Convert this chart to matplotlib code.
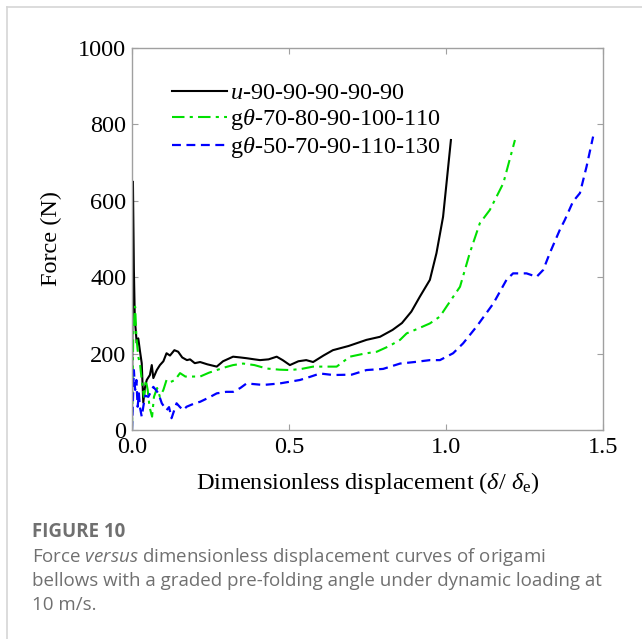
import numpy as np
import matplotlib
matplotlib.use("Agg")
import matplotlib.pyplot as plt
from matplotlib.lines import Line2D

plt.rcParams['font.family'] = ['Liberation Serif', 'DejaVu Serif']
plt.rcParams['mathtext.fontset'] = 'custom'
plt.rcParams['mathtext.rm'] = 'Liberation Serif'
plt.rcParams['mathtext.it'] = 'Liberation Serif:italic'
plt.rcParams['mathtext.sf'] = 'Open Sans:italic'  # for the italic word in the caption

# uniform bellows u-90-90-90-90-90
x_u = [0, 0.003, 0.006, 0.009, 0.012, 0.015, 0.02, 0.025, 0.031, 0.036, 0.041, 0.047,
       0.057, 0.063, 0.068, 0.079, 0.089, 0.1, 0.11, 0.121, 0.135, 0.147, 0.16, 0.175,
       0.185, 0.2, 0.217, 0.24, 0.27, 0.29, 0.322, 0.345, 0.365, 0.39, 0.408, 0.435,
       0.461, 0.48, 0.503, 0.53, 0.555, 0.577, 0.61, 0.64, 0.69, 0.747, 0.79, 0.83,
       0.86, 0.89, 0.917, 0.949, 0.97, 0.991, 1.002, 1.016]
f_u = [0, 650, 420, 290, 260, 228, 240, 209, 175, 72, 110, 131,
       144, 170, 136, 157, 170, 180, 201, 195, 209, 205, 190, 183,
       185, 175, 178, 172, 166, 180, 192, 190, 188, 185, 183, 185,
       192, 183, 170, 180, 183, 178, 195, 209, 220, 236, 244, 262,
       280, 310, 349, 393, 463, 558, 646, 759]

# graded g-theta-70-80-90-100-110
x_g1 = [0, 0.004, 0.01, 0.014, 0.02, 0.026, 0.032, 0.038, 0.044, 0.05, 0.056, 0.064,
        0.07, 0.08, 0.089, 0.1, 0.11, 0.121, 0.137, 0.153, 0.17, 0.185, 0.217, 0.245,
        0.27, 0.3, 0.322, 0.354, 0.39, 0.429, 0.47, 0.503, 0.54, 0.577, 0.652, 0.694,
        0.74, 0.78, 0.82, 0.854, 0.875, 0.91, 0.949, 0.981, 1.002, 1.045, 1.076, 1.108,
        1.14, 1.183, 1.22]
f_g1 = [0, 250, 323, 244, 192, 170, 123, 87, 131, 105, 60, 35,
        87, 110, 87, 105, 131, 125, 131, 149, 140, 140, 140, 150,
        157, 165, 170, 174, 170, 161, 158, 157, 160, 166, 166, 192,
        200, 205, 220, 236, 253, 265, 279, 297, 323, 375, 463, 541,
        576, 646, 759]

# graded g-theta-50-70-90-110-130
x_g2 = [0, 0.006, 0.01, 0.014, 0.018, 0.022, 0.025, 0.031, 0.036, 0.042, 0.052, 0.06,
        0.068, 0.076, 0.084, 0.095, 0.11, 0.118, 0.126, 0.142, 0.153, 0.163, 0.174, 0.2,
        0.217, 0.245, 0.27, 0.3, 0.322, 0.345, 0.365, 0.418, 0.471, 0.535, 0.57, 0.599,
        0.641, 0.7, 0.747, 0.8, 0.854, 0.9, 0.949, 0.981, 1.023, 1.055, 1.098, 1.151,
        1.193, 1.214, 1.257, 1.289, 1.31, 1.331, 1.363, 1.379, 1.405, 1.427, 1.448, 1.469]
f_g2 = [0, 157, 105, 131, 61, 96, 61, 35, 61, 90, 87, 100,
        113, 105, 96, 70, 52, 60, 31, 70, 60, 52, 61, 70,
        74, 85, 96, 100, 100, 110, 122, 118, 122, 131, 140, 148,
        144, 145, 157, 160, 174, 178, 183, 183, 201, 227, 271, 331,
        393, 410, 410, 401, 419, 463, 524, 550, 598, 620, 689, 768]

labels = ['$u$-90-90-90-90-90', 'g$\\theta$-70-80-90-100-110', 'g$\\theta$-50-70-90-110-130']

fig = plt.figure(figsize=(6.42, 6.39), dpi=100)
ax = fig.add_axes([0.2056, 0.327, 0.7334, 0.598])

ax.plot(x_u, f_u, color='black', lw=1.5, ls='-', label=labels[0])
ax.plot(x_g1, f_g1, color='#00e000', lw=1.5, ls=(0, (6, 2.5, 1.5, 2.5)), label=labels[1])
ax.plot(x_g2, f_g2, color='#0000ff', lw=1.6, ls=(0, (4, 2.5)), label=labels[2])

ax.set_xlim(0, 1.5)
ax.set_ylim(0, 1000)
ax.set_xticks([0, 0.5, 1.0, 1.5])
ax.set_xticklabels(['0.0', '0.5', '1.0', '1.5'])
ax.set_yticks([0, 200, 400, 600, 800, 1000])
for s in ax.spines.values():
    s.set_color('#a0a0a0')
    s.set_linewidth(1.0)
ax.tick_params(direction='in', top=True, right=True, length=4, color='#a0a0a0',
               labelsize=17.5, pad=4)
ax.tick_params(axis='x', pad=5)
ax.set_xlabel('Dimensionless displacement ($\\delta$/ $\\delta_\\mathrm{e}$)', fontsize=17.5, labelpad=9)
ax.set_ylabel('Force (N)', fontsize=17.5, labelpad=12)

ax.legend(loc='upper left', bbox_to_anchor=(0.064, 0.935), frameon=False, fontsize=17.5,
          handlelength=2.25, handletextpad=0.15, labelspacing=0.12, borderaxespad=0)

# page border
fig.add_artist(Line2D([7 / 642, 7 / 642], [0, 1 - 7 / 639], color='#d5d5d5', lw=1.2))
fig.add_artist(Line2D([7 / 642, 1], [1 - 7 / 639, 1 - 7 / 639], color='#d5d5d5', lw=1.2))

cap = ['Open Sans', 'DejaVu Sans']
cap_color = '#707070'
fig.text(32 / 642, 1 - 532 / 639, 'FIGURE 10', family=cap, fontsize=13.5, weight='bold',
         color=cap_color, va='center')
fig.text(32 / 642, 1 - 557 / 639, 'Force $\\mathsf{versus}$ dimensionless displacement curves of origami',
         family=cap, fontsize=13.5, color=cap_color, va='center')
fig.text(32 / 642, 1 - 581 / 639, 'bellows with a graded pre-folding angle under dynamic loading at',
         family=cap, fontsize=13.5, color=cap_color, va='center')
fig.text(32 / 642, 1 - 605 / 639, '10 m/s.', family=cap, fontsize=13.5, color=cap_color, va='center')

fig.savefig('out.png', dpi=100)
